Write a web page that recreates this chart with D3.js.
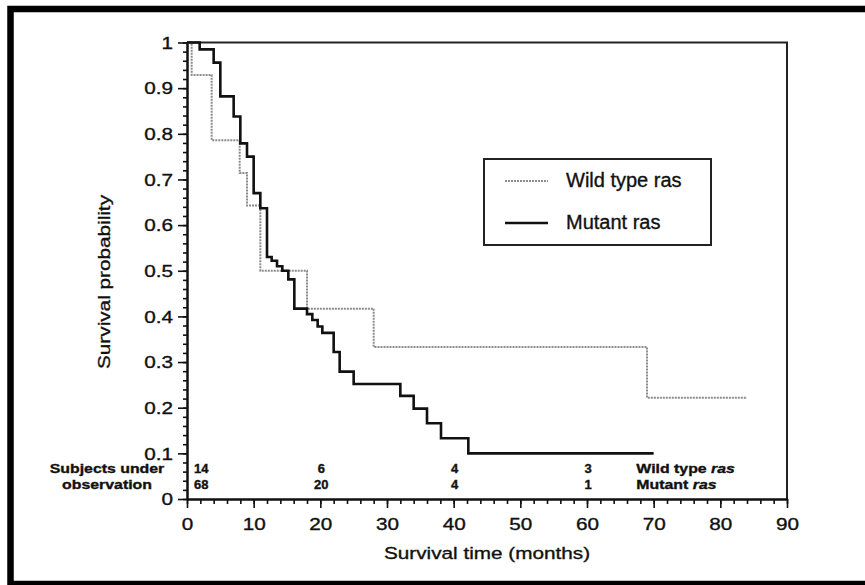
<!DOCTYPE html>
<html>
<head>
<meta charset="utf-8">
<script src="https://cdn.jsdelivr.net/npm/d3@7.9.0/dist/d3.min.js"></script>
<style>
  body { margin: 0; background: #fff; }
  svg { display: block; }
  text { font-family: "Liberation Sans", Arial, sans-serif; fill: #111; stroke: #111; stroke-width: 0.35; }
</style>
</head>
<body>
<svg width="865" height="585"></svg>
<script>
// Kaplan-Meier steps (months, survival probability)
const wildTimes = [0, 0.7, 3.7, 7.9, 9, 11, 18, 28, 69, 84];
const wildSurv = [1, 0.929, 0.786, 0.714, 0.643, 0.5, 0.417, 0.333, 0.222, 0.222];

const mutantTimes = [0, 1.9, 4, 5, 7, 8, 9, 10, 11, 12, 12.7, 13.5, 14.3, 15.2, 16.1,
  18, 18.8, 19.6, 20.3, 22, 22.9, 25, 32, 34, 36, 38.1, 42.2, 70];
const mutantSurv = [1, 0.985, 0.956, 0.882, 0.838, 0.779, 0.75, 0.67, 0.637, 0.53, 0.522, 0.51,
  0.5, 0.481, 0.417, 0.405, 0.392, 0.378, 0.364, 0.322, 0.279, 0.252, 0.226, 0.198, 0.166,
  0.133, 0.1, 0.1];

const seriesNames = ["Wild type ras", "Mutant ras"];

const xTicks = [0, 10, 20, 30, 40, 50, 60, 70, 80, 90];
const yTicks = [0, 0.1, 0.2, 0.3, 0.4, 0.5, 0.6, 0.7, 0.8, 0.9, 1];
const yTickLabels = ["0", "0.1", "0.2", "0.3", "0.4", "0.5", "0.6", "0.7", "0.8", "0.9", "1"];

// subjects under observation
const riskTimes = [0, 20, 40, 60];
const riskWild = [14, 6, 4, 3];
const riskMutant = [68, 20, 4, 1];

const svg = d3.select("svg");
const sx = 1.22; // the scanned lettering is a bit wider than Arial

const x = d3.scaleLinear().domain([0, 90]).range([187, 787]);
const y = d3.scaleLinear().domain([0, 1]).range([499, 42.5]);

// outer frame of the scan
svg.append("rect")
  .attr("x", 10.5).attr("y", 9)
  .attr("width", 900).attr("height", 575)
  .attr("fill", "none").attr("stroke", "#000").attr("stroke-width", 6.5);

// plot box (top + right)
svg.append("path")
  .attr("d", `M${x(0)},${y(1)}H${x(90)}V${y(0)}`)
  .attr("fill", "none").attr("stroke", "#222").attr("stroke-width", 2);

// x axis
const gx = svg.append("g").attr("transform", `translate(0,${y(0)})`);
gx.append("g")
  .call(d3.axisBottom(x).tickValues(d3.range(0, 91, 2)).tickSize(5).tickSizeOuter(0).tickFormat(""));
gx.append("g")
  .call(d3.axisBottom(x).tickValues(xTicks).tickSize(9).tickSizeOuter(0).tickFormat(d3.format("d")));
gx.selectAll(".tick text")
  .attr("y", null).attr("dy", null)
  .attr("font-size", 17)
  .attr("transform", `translate(0,30.5) scale(${sx},1)`);

// y axis
const gy = svg.append("g").attr("transform", `translate(${x(0)},0)`);
gy.append("g")
  .call(d3.axisLeft(y).tickValues(d3.range(0, 1.001, 0.02)).tickSize(4).tickSizeOuter(0).tickFormat(""));
gy.append("g")
  .call(d3.axisLeft(y).tickValues(yTicks).tickSize(9).tickSizeOuter(0)
    .tickFormat((d, i) => yTickLabels[i]));
gy.selectAll(".tick text")
  .attr("x", null).attr("dy", "0.34em")
  .attr("font-size", 17)
  .attr("transform", `translate(-14,0) scale(${sx},1)`);

svg.selectAll(".domain").attr("stroke", "#111").attr("stroke-width", 2);
svg.selectAll(".tick line").attr("stroke", "#111").attr("stroke-width", 1.6);

// curves
const line = d3.line()
  .x((d) => x(d[0]))
  .y((d) => y(d[1]))
  .curve(d3.curveStepAfter);

const wild = wildTimes.map((t, i) => [t, wildSurv[i]]);
const mutant = mutantTimes.map((t, i) => [t, mutantSurv[i]]);

svg.append("path")
  .attr("d", line(wild))
  .attr("fill", "none").attr("stroke", "#8c8c8c").attr("stroke-width", 2)
  .attr("stroke-dasharray", "2,1");

svg.append("path")
  .attr("d", line(mutant))
  .attr("fill", "none").attr("stroke", "#111").attr("stroke-width", 2.6);

// axis titles
svg.append("text")
  .attr("transform", `translate(${x(45)},559) scale(${sx},1)`)
  .attr("text-anchor", "middle").attr("font-size", 17)
  .text("Survival time (months)");

svg.append("text")
  .attr("transform", `translate(110,282) rotate(-90) scale(${sx},1)`)
  .attr("text-anchor", "middle").attr("font-size", 17)
  .text("Survival probability");

// legend
const legend = svg.append("g");
legend.append("rect")
  .attr("x", 484).attr("y", 159).attr("width", 227).attr("height", 86)
  .attr("fill", "#fff").attr("stroke", "#222").attr("stroke-width", 2);

const legendStyles = [
  { stroke: "#8c8c8c", width: 2, dash: "2,1" },
  { stroke: "#111", width: 2.6, dash: null }
];
seriesNames.forEach((name, i) => {
  const ly = 181 + i * 42;
  legend.append("line")
    .attr("x1", 505).attr("x2", 548).attr("y1", ly).attr("y2", ly)
    .attr("stroke", legendStyles[i].stroke)
    .attr("stroke-width", legendStyles[i].width)
    .attr("stroke-dasharray", legendStyles[i].dash);
  legend.append("text")
    .attr("x", 566).attr("y", ly + 5.5)
    .attr("font-size", 20)
    .text(name);
});

// numbers at risk table
const table = svg.append("g").attr("font-weight", "bold").attr("font-size", 13);
[["Subjects under", 473], ["observation", 488.5]].forEach(([label, ty]) => {
  table.append("text")
    .attr("transform", `translate(107,${ty}) scale(${sx},1)`)
    .attr("text-anchor", "middle")
    .text(label);
});

[riskWild, riskMutant].forEach((row, r) => {
  const ty = 472.5 + r * 16;
  row.forEach((n, i) => {
    const t = riskTimes[i];
    table.append("text")
      .attr("x", t === 0 ? x(t) + 7 : x(t) + 1)
      .attr("y", ty)
      .attr("text-anchor", t === 0 ? "start" : "middle")
      .text(n);
  });
  const lab = table.append("text")
    .attr("transform", `translate(${x(67.4)},${ty}) scale(${sx},1)`);
  const parts = seriesNames[r].split(" ");
  lab.append("tspan").text(parts.slice(0, -1).join(" ") + " ");
  lab.append("tspan").attr("font-style", "italic").text(parts[parts.length - 1]);
});
</script>
</body>
</html>
